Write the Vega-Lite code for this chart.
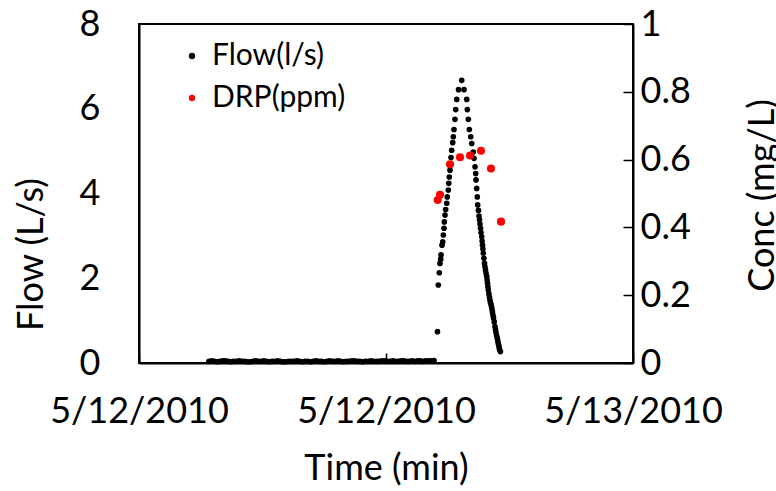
{
  "$schema": "https://vega.github.io/schema/vega-lite/v6.json",
  "width": 494,
  "height": 339,
  "autosize": {"type": "none"},
  "padding": {"left": 139, "top": 24, "right": 143, "bottom": 128},
  "background": "white",
  "config": {
    "font": "Lato",
    "view": {"stroke": "#000", "strokeWidth": 2},
    "axis": {"labelFontSize": 36, "titleFontSize": 36, "labelColor": "#000", "titleColor": "#000", "titleFontWeight": "normal", "domainColor": "#000", "domainWidth": 2, "tickColor": "#000", "tickWidth": 1.5, "grid": false, "labelFont": "Lato", "titleFont": "Lato"},
    "legend": {"labelFont": "Lato"}
  },
  "datasets": {
    "flow": [
      {"t":204,"f":0.04},{"t":212,"f":0.05},{"t":220,"f":0.04},{"t":228,"f":0.03},{"t":236,"f":0.04},{"t":244,"f":0.05},{"t":252,"f":0.05},{"t":260,"f":0.04},{"t":268,"f":0.03},{"t":276,"f":0.04},
      {"t":284,"f":0.04},{"t":292,"f":0.05},{"t":300,"f":0.04},{"t":308,"f":0.04},{"t":316,"f":0.03},{"t":324,"f":0.03},{"t":332,"f":0.04},{"t":340,"f":0.05},{"t":348,"f":0.04},{"t":356,"f":0.04},
      {"t":364,"f":0.05},{"t":372,"f":0.04},{"t":380,"f":0.03},{"t":388,"f":0.04},{"t":396,"f":0.04},{"t":404,"f":0.05},{"t":412,"f":0.04},{"t":420,"f":0.03},{"t":428,"f":0.03},{"t":436,"f":0.04},
      {"t":444,"f":0.04},{"t":452,"f":0.04},{"t":460,"f":0.05},{"t":468,"f":0.04},{"t":476,"f":0.03},{"t":484,"f":0.04},{"t":492,"f":0.04},{"t":500,"f":0.03},{"t":508,"f":0.04},{"t":516,"f":0.05},
      {"t":524,"f":0.04},{"t":532,"f":0.04},{"t":540,"f":0.03},{"t":548,"f":0.04},{"t":556,"f":0.05},{"t":564,"f":0.04},{"t":572,"f":0.04},{"t":580,"f":0.05},{"t":588,"f":0.04},{"t":596,"f":0.03},
      {"t":604,"f":0.04},{"t":612,"f":0.04},{"t":620,"f":0.05},{"t":628,"f":0.05},{"t":636,"f":0.04},{"t":644,"f":0.04},{"t":652,"f":0.03},{"t":660,"f":0.04},{"t":668,"f":0.04},{"t":676,"f":0.05},
      {"t":684,"f":0.04},{"t":692,"f":0.04},{"t":700,"f":0.04},{"t":708,"f":0.05},{"t":716,"f":0.05},{"t":724,"f":0.04},{"t":732,"f":0.04},{"t":740,"f":0.05},{"t":748,"f":0.04},{"t":756,"f":0.04},
      {"t":764,"f":0.05},{"t":772,"f":0.05},{"t":780,"f":0.04},{"t":788,"f":0.04},{"t":796,"f":0.05},{"t":804,"f":0.04},{"t":812,"f":0.05},{"t":820,"f":0.05},{"t":828,"f":0.04},{"t":836,"f":0.05},
      {"t":844,"f":0.05},{"t":852,"f":0.05},{"t":860,"f":0.06},
      {"t":870,"f":0.74},{"t":872.5,"f":1.84},{"t":875.4,"f":2.13},{"t":877.4,"f":2.35},{"t":879.5,"f":2.45},{"t":880.4,"f":2.55},{"t":883.3,"f":2.78},{"t":885.3,"f":2.86},{"t":887.1,"f":3.02},{"t":889.1,"f":3.18},
      {"t":890,"f":3.33},{"t":892,"f":3.49},{"t":894,"f":3.62},{"t":897,"f":3.77},{"t":898.7,"f":3.92},{"t":901.6,"f":4.08},{"t":902.8,"f":4.24},{"t":904.5,"f":4.39},{"t":906.6,"f":4.55},{"t":908,"f":4.70},
      {"t":909.5,"f":4.85},{"t":911.5,"f":5.02},{"t":914.4,"f":5.20},{"t":916.2,"f":5.34},{"t":918.2,"f":5.51},{"t":921.1,"f":5.75},{"t":923.2,"f":5.98},{"t":926.1,"f":6.22},{"t":931.4,"f":6.45},{"t":940.7,"f":6.67},
      {"t":947.4,"f":6.45},{"t":955.3,"f":6.22},{"t":957,"f":5.98},{"t":960,"f":5.75},{"t":962.8,"f":5.51},{"t":967,"f":5.34},{"t":969.9,"f":5.18},{"t":974.5,"f":4.98},{"t":976.5,"f":4.83},{"t":979.5,"f":4.63},
      {"t":981.5,"f":4.47},{"t":982.4,"f":4.32},{"t":984.4,"f":4.12},{"t":986.2,"f":3.92},{"t":987.3,"f":3.73},{"t":989.5,"f":3.60},{"t":991.1,"f":3.47},{"t":992.6,"f":3.38},{"t":994,"f":3.28},{"t":995.5,"f":3.18},{"t":997,"f":3.08},
      {"t":999,"f":2.98},{"t":1000.2,"f":2.88},{"t":1001.3,"f":2.78},{"t":1002.5,"f":2.69},{"t":1003.7,"f":2.59},{"t":1005.4,"f":2.47},{"t":1007.2,"f":2.35},{"t":1008.6,"f":2.27},{"t":1010.1,"f":2.19},{"t":1011.8,"f":2.11},
      {"t":1013.6,"f":2.04},{"t":1014.7,"f":1.96},{"t":1015.9,"f":1.88},{"t":1017.1,"f":1.80},{"t":1018.2,"f":1.72},{"t":1020,"f":1.63},{"t":1021.7,"f":1.55},{"t":1023.2,"f":1.48},{"t":1024.6,"f":1.42},{"t":1026.4,"f":1.37},
      {"t":1028.1,"f":1.31},{"t":1029.3,"f":1.25},{"t":1030.5,"f":1.19},{"t":1031.9,"f":1.12},{"t":1033.4,"f":1.06},{"t":1035.4,"f":0.97},{"t":1037.7,"f":0.86},{"t":1039.2,"f":0.79},{"t":1040.7,"f":0.72},{"t":1042.4,"f":0.65},
      {"t":1044.4,"f":0.58},{"t":1045.9,"f":0.52},{"t":1047.3,"f":0.46},{"t":1048.8,"f":0.41},{"t":1050,"f":0.36},{"t":1051.1,"f":0.31},{"t":1053.5,"f":0.27}
    ],
    "drp": [
      {"t":870.7,"c":0.481},{"t":877.4,"c":0.496},{"t":906.6,"c":0.586},{"t":935.7,"c":0.607},{"t":964.9,"c":0.612},{"t":996.9,"c":0.626},{"t":1026,"c":0.574},{"t":1055.2,"c":0.417}
    ]
  },
  "layer": [
    {
      "data": {"name": "flow"},
      "mark": {"type": "point", "filled": true, "size": 32, "opacity": 1},
      "encoding": {
        "x": {"field": "t", "type": "quantitative", "scale": {"domain": [0, 1440], "nice": false},
          "axis": {"values": [0, 720, 1440], "labelExpr": "datum.value == 1440 ? '5/13/2010' : '5/12/2010'", "title": "Time (min)", "tickSize": -10, "labelPadding": 41, "titlePadding": 22, "labelFlush": false}},
        "y": {"field": "f", "type": "quantitative", "scale": {"domain": [0, 8], "nice": false},
          "axis": {"values": [0, 2, 4, 6, 8], "ticks": false, "labelPadding": 39, "title": "Flow (L/s)", "titleX": -89, "titleY": 230, "titleBaseline": "bottom", "titleAngle": -90, "titleAnchor": "middle"}},
        "color": {"datum": "Flow(l/s)", "type": "nominal", "scale": {"domain": ["Flow(l/s)", "DRP(ppm)"], "range": ["#000000", "#ff0000"]},
          "legend": {"title": null, "orient": "none", "legendX": 38, "legendY": 17, "labelFontSize": 30, "labelColor": "#000", "symbolType": "circle", "symbolSize": 40, "labelOffset": 5, "rowPadding": 12, "symbolStrokeWidth": 0}}
      }
    },
    {
      "data": {"name": "drp"},
      "mark": {"type": "point", "filled": true, "size": 65, "opacity": 1},
      "encoding": {
        "x": {"field": "t", "type": "quantitative"},
        "y": {"field": "c", "type": "quantitative", "scale": {"domain": [0, 1], "nice": false},
          "axis": {"orient": "right", "values": [0, 0.2, 0.4, 0.6, 0.8, 1], "format": "~g", "tickSize": -10, "labelPadding": 17, "title": "Conc (mg/L)", "titleAngle": -90, "titleBaseline": "top", "titleX": 112, "titleY": 171, "titleAnchor": "middle"}},
        "color": {"datum": "DRP(ppm)", "type": "nominal"}
      }
    }
  ],
  "resolve": {"scale": {"y": "independent"}}
}
